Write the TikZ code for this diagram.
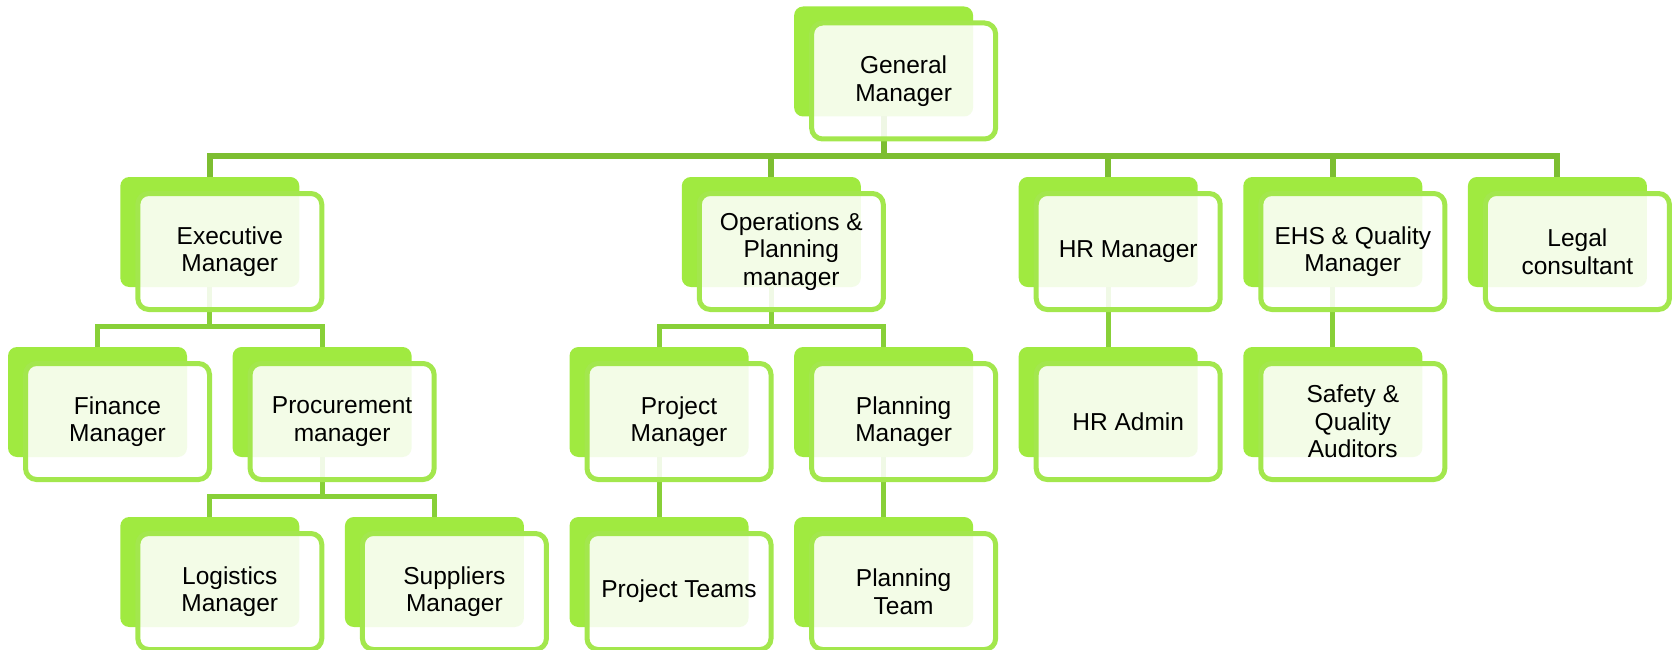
\documentclass[tikz,border=0pt]{standalone}
\usepackage{fontspec}
\setmainfont{Liberation Sans}
\usepackage{xcolor}
\usepackage{tikz}
\usetikzlibrary{calc, positioning}

\definecolor{backgreen}{RGB}{160,234,64}
\definecolor{edgegreen}{RGB}{163,231,77}
\definecolor{busgreen}{RGB}{125,190,49}
\definecolor{linkgreen}{RGB}{136,208,56}

\begin{document}
\begin{tikzpicture}[
    x=1pt, y=-1pt,
    font=\fontsize{24.5}{27.5}\selectfont
]
    % Styles for the two layers of each box
    \tikzstyle{back} = [rectangle, rounded corners=9pt, fill=backgreen, minimum width=179pt, minimum height=110pt, inner sep=0pt, outer sep=0pt]
    \tikzstyle{front} = [rectangle, rounded corners=11pt, draw=edgegreen, line width=5pt, fill=white, fill opacity=0.88, text opacity=1, minimum width=184pt, minimum height=116pt, align=center, inner sep=0pt, outer sep=0pt]
    \tikzstyle{bus} = [busgreen, line width=6pt]
    \tikzstyle{link} = [linkgreen, line width=5pt]

    \useasboundingbox (0,0) rectangle (1676,650);

    % Back boxes

    % Top
    \node [back] (GM) at (883.6, 61.5) {};

    % Second row
    \node [back] (Exec) at (209.8, 232) {};
    \node [back] (Ops) at (771.3, 232) {};
    \node [back] (HR) at (1108.2, 232) {};
    \node [back] (EHS) at (1332.8, 232) {};
    \node [back] (Legal) at (1557.4, 232) {};

    % Third row
    \node [back] (Fin) at (97.5, 402) {};
    \node [back] (Proc) at (322.1, 402) {};
    \node [back] (ProjMgr) at (659, 402) {};
    \node [back] (PlanMgr) at (883.6, 402) {};
    \node [back] (HRAdmin) at (1108.2, 402) {};
    \node [back] (Safety) at (1332.8, 402) {};

    % Fourth row
    \node [back] (Logi) at (209.8, 572) {};
    \node [back] (Supp) at (434.4, 572) {};
    \node [back] (ProjTeam) at (659, 572) {};
    \node [back] (PlanTeam) at (883.6, 572) {};

    % Connections

    % 1. General Manager -> second row
    \foreach \child in {Exec, Ops, HR, EHS, Legal}
        \draw [bus] (GM.south) -- ++(0,39.5) -| (\child.north);

    % 2. Executive -> Finance, Procurement
    \draw [link] (Exec.south) -- ++(0,39) -| (Fin.north);
    \draw [link] (Exec.south) -- ++(0,39) -| (Proc.north);

    % 3. Procurement -> Logistics, Suppliers
    \draw [link] (Proc.south) -- ++(0,39) -| (Logi.north);
    \draw [link] (Proc.south) -- ++(0,39) -| (Supp.north);

    % 4. Operations -> Project, Planning
    \draw [link] (Ops.south) -- ++(0,39) -| (ProjMgr.north);
    \draw [link] (Ops.south) -- ++(0,39) -| (PlanMgr.north);

    % 5. Single lines
    \draw [link] (ProjMgr.south) -- (ProjTeam.north);
    \draw [link] (PlanMgr.south) -- (PlanTeam.north);
    \draw [link] (HR.south) -- (HRAdmin.north);
    \draw [link] (EHS.south) -- (Safety.north);

    % Front boxes with the titles
    \node [front] (GMLabel) at ($(GM) + (20,19.5)$) {General\\Manager};

    \node [front] (ExecLabel) at ($(Exec) + (20,19.5)$) {Executive\\Manager};
    \node [front] (OpsLabel) at ($(Ops) + (20,19.5)$) {Operations \&\\Planning\\manager};
    \node [front] (HRLabel) at ($(HR) + (20,19.5)$) {HR Manager};
    \node [front] (EHSLabel) at ($(EHS) + (20,19.5)$) {EHS \& Quality\\Manager};
    \node [front] (LegalLabel) at ($(Legal) + (20,19.5)$) {Legal\\consultant};

    \node [front] (FinLabel) at ($(Fin) + (20,19.5)$) {Finance\\Manager};
    \node [front] (ProcLabel) at ($(Proc) + (20,19.5)$) {Procurement\\manager};
    \node [front] (ProjMgrLabel) at ($(ProjMgr) + (20,19.5)$) {Project\\Manager};
    \node [front] (PlanMgrLabel) at ($(PlanMgr) + (20,19.5)$) {Planning\\Manager};
    \node [front] (HRAdminLabel) at ($(HRAdmin) + (20,19.5)$) {HR Admin};
    \node [front] (SafetyLabel) at ($(Safety) + (20,19.5)$) {Safety \&\\Quality\\Auditors};

    \node [front] (LogiLabel) at ($(Logi) + (20,19.5)$) {Logistics\\Manager};
    \node [front] (SuppLabel) at ($(Supp) + (20,19.5)$) {Suppliers\\Manager};
    \node [front] (ProjTeamLabel) at ($(ProjTeam) + (20,19.5)$) {Project Teams};
    \node [front] (PlanTeamLabel) at ($(PlanTeam) + (20,19.5)$) {Planning\\Team};

\end{tikzpicture}
\end{document}
